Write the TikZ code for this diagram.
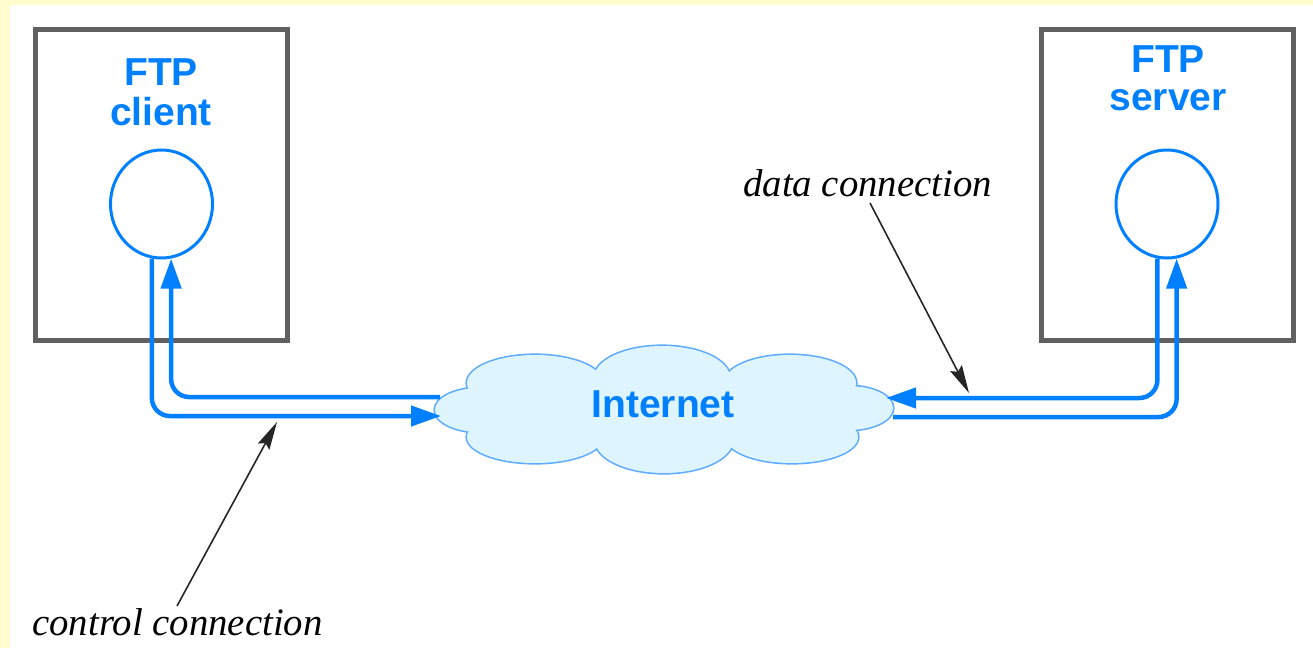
\documentclass[tikz,border=0pt]{standalone}
\usepackage{fontspec}
\usetikzlibrary{arrows.meta,shapes.geometric}
\newfontfamily\labsans{Liberation Sans}
\newfontfamily\labserif{Liberation Serif}
\definecolor{ftpblue}{RGB}{0,128,255}
\definecolor{cloudfill}{RGB}{222,245,255}
\definecolor{cloudedge}{RGB}{95,172,255}
\definecolor{boxgray}{RGB}{96,96,96}
\definecolor{pageyellow}{RGB}{255,253,206}
\begin{document}
\begin{tikzpicture}[x=1pt,y=-1pt,
  hostbox/.style={draw=boxgray,line width=5pt,minimum width=251.5pt,minimum height=311pt,inner sep=0pt},
  proc/.style={draw=ftpblue,line width=3pt,ellipse,minimum width=102pt,minimum height=108pt,inner sep=0pt},
  title/.style={font=\labsans\bfseries\fontsize{39}{40}\selectfont,text=ftpblue,inner sep=0pt,anchor=base},
  note/.style={font=\labserif\itshape\fontsize{38.8}{40}\selectfont,inner sep=0pt,anchor=base west},
  conn/.style={draw=ftpblue,line width=4.5pt,rounded corners=18pt,-{Triangle[length=30pt,width=20pt]}},
  leader/.style={draw=black!85,line width=1.6pt,-{Stealth[length=28pt,width=13pt,inset=4pt]}},
  cloudline/.style={draw=cloudedge,line width=3.2pt},
  cloudbody/.style={fill=cloudfill}]
\useasboundingbox (0,0) rectangle (1313,648);
\fill[pageyellow] (0,0) rectangle (1313,648);
\fill[white] (10,5) rectangle (1313,648);

% host boxes
\node[hostbox] (cbox) at (161.25,185) {};
\node[hostbox] (sbox) at (1167.25,185) {};

% titles
\node[title] (ftpc) at (161,85) {FTP};
\node[title] (cli) at (161,125) {client};
\node[title] (ftps) at (1168,72) {FTP};
\node[title] (srv) at (1168,110) {server};

% processes
\node[proc] (cc) at (161.5,204) {};
\node[proc] (sc) at (1167,204) {};

% cloud
\path[cloudline]
 (535,383) ellipse [x radius=68, y radius=28]
 (662,378) ellipse [x radius=68, y radius=32]
 (790,383) ellipse [x radius=66, y radius=28]
 (535,437) ellipse [x radius=68, y radius=26]
 (664,440) ellipse [x radius=69, y radius=33]
 (792,437) ellipse [x radius=66, y radius=26]
 (480,410) ellipse [x radius=45, y radius=22]
 (848,408) ellipse [x radius=45, y radius=22];
\path[cloudbody]
 (535,383) ellipse [x radius=68, y radius=28]
 (662,378) ellipse [x radius=68, y radius=32]
 (790,383) ellipse [x radius=66, y radius=28]
 (535,437) ellipse [x radius=68, y radius=26]
 (664,440) ellipse [x radius=69, y radius=33]
 (792,437) ellipse [x radius=66, y radius=26]
 (480,410) ellipse [x radius=45, y radius=22]
 (848,408) ellipse [x radius=45, y radius=22];
\path[cloudbody] (480,385) rectangle (850,435);
\node[title] (inet) at (663,417) {Internet};

% connection end points at the cloud
\coordinate (inetL1) at (440,397);
\coordinate (inetL2) at (441,416);
\coordinate (inetR1) at (886,398);
\coordinate (inetR2) at (893,417);

% control connection
\draw[conn] (inetL1) -| (cc.-80);
\draw[conn] (cc.-100) |- (inetL2);
% data connection
\draw[conn] (sc.-100) |- (inetR1);
\draw[conn] (inetR2) -| (sc.-80);

% labels
\node[note] (dlabel) at (743,196) {data connection};
\node[note] (clabel) at (32,635) {control connection};
\coordinate (dstart) at (870,203);
\coordinate (dtip) at (969,393);
\coordinate (cstart) at (177,606);
\coordinate (ctip) at (277,422);
\draw[leader] (dstart) -- (dtip);
\draw[leader] (cstart) -- (ctip);
\end{tikzpicture}
\end{document}
